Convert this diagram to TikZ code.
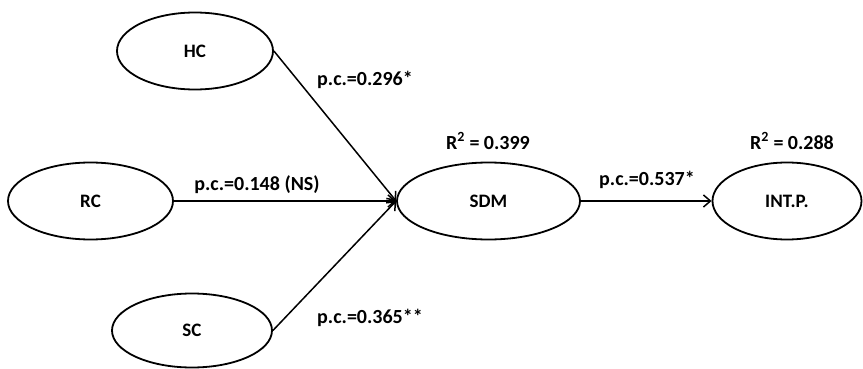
\documentclass[tikz,border=0pt]{standalone}
\usepackage{fontspec}
\setmainfont{Carlito}
\usetikzlibrary{shapes.geometric, arrows.meta}

\begin{document}
\begin{tikzpicture}[
    x=1pt, y=-1pt,
    latent/.style={ellipse, draw, line width=1.8pt, minimum height=77pt, inner sep=0pt, font=\bfseries\fontsize{19}{22}\selectfont},
    coef/.style={font=\bfseries\fontsize{20}{24}\selectfont, inner sep=1pt},
    link/.style={draw, line width=1.5pt, ->, >={Straight Barb[length=7pt, width=12pt, line width=1.5pt]}}
]
  \useasboundingbox (0,0) rectangle (863,369);
  % constructs
  \node[latent, minimum width=156pt] (hc) at (195, 51) {HC};
  \node[latent, minimum width=165pt] (rc) at (90.5, 201) {RC};
  \node[latent, minimum width=160pt, minimum height=74pt] (sc) at (192, 330.5) {SC};
  \node[latent, minimum width=183pt] (sdm) at (488.5, 201) {SDM};
  \node[latent, minimum width=149pt] (intp) at (787, 201) {INT.P.};
  % paths
  \foreach \src in {hc, rc, sc} {
    \draw[link] (\src.east) -- (sdm.west);
  }
  \draw[link] (sdm.east) -- (intp.west);
  % path coefficients
  \node[coef] (c1) at (365, 80) {p.c.=0.296*};
  \node[coef] (c2) at (257, 185) {p.c.=0.148 (NS)};
  \node[coef] (c3) at (370, 318) {p.c.=0.365**};
  \node[coef] (c4) at (647, 180) {p.c.=0.537*};
  % explained variance
  \node[coef] (r1) at (488, 141) {R\textsuperscript{2} = 0.399};
  \node[coef] (r2) at (792, 141) {R\textsuperscript{2} = 0.288};
\end{tikzpicture}
\end{document}
